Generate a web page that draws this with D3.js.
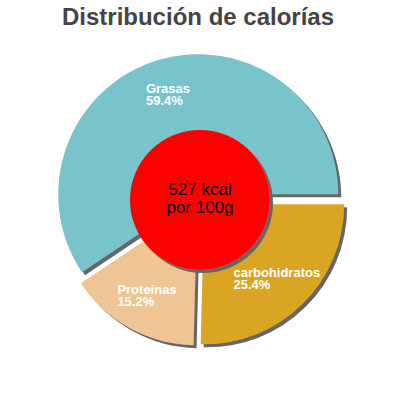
<!DOCTYPE html>
<html>
<head>
<meta charset="utf-8">
<script src="https://cdn.jsdelivr.net/npm/d3@7"></script>
<style>
  body { margin: 0; background: #fff; }
  svg { display: block; font-family: "Liberation Sans", Arial, sans-serif; }
</style>
</head>
<body>
<svg id="svg"></svg>
<script>
const W = 400, H = 400;

// data
const categories = ["carbohidratos", "Proteínas", "Grasas"];
const values = [25.4, 15.2, 59.4];
const colors = ["#daa520", "#eec593", "#79c3cb"];
const titleText = "Distribución de calorías";
const centerLines = ["527 kcal", "por 100g"];

document.addEventListener("DOMContentLoaded", function () {
    const svg = d3.select("#svg").attr("width", W).attr("height", H);

    const cx = 200, cy = 200, r = 140, explode = 6, labelR = 104;

    // hard grey drop shadow
    const f = svg.append("defs").append("filter")
        .attr("id", "shadow")
        .attr("x", "-10%").attr("y", "-10%")
        .attr("width", "130%").attr("height", "130%");
    f.append("feOffset").attr("in", "SourceAlpha").attr("dx", 3).attr("dy", 3).attr("result", "off");
    f.append("feFlood").attr("flood-color", "#666666").attr("result", "col");
    f.append("feComposite").attr("in", "col").attr("in2", "off").attr("operator", "in").attr("result", "sh");
    const m = f.append("feMerge");
    m.append("feMergeNode").attr("in", "sh");
    m.append("feMergeNode").attr("in", "SourceGraphic");

    svg.append("text")
        .attr("x", 198)
        .attr("y", 24.5)
        .attr("text-anchor", "middle")
        .attr("font-size", 24)
        .attr("font-weight", "bold")
        .attr("fill", "#444444")
        .text(titleText);

    const pie = d3.pie().sort(null)
        .startAngle(Math.PI / 2)
        .endAngle(Math.PI / 2 + 2 * Math.PI);
    const arcs = pie(values);
    const arc = d3.arc().innerRadius(0).outerRadius(r);

    const total = d3.sum(values);

    const g = svg.append("g").attr("transform", `translate(${cx},${cy})`);

    const slice = g.selectAll("g.slice")
        .data(arcs)
        .join("g")
        .attr("class", "slice")
        .attr("transform", d => {
            const a = (d.startAngle + d.endAngle) / 2;
            return `translate(${explode * Math.sin(a)},${-explode * Math.cos(a)})`;
        });

    slice.append("path")
        .attr("d", arc)
        .attr("fill", (d, i) => colors[i])
        .attr("filter", "url(#shadow)");

    // labels: two lines, left aligned, block centred on the mid angle
    slice.each(function (d, i) {
        const a = (d.startAngle + d.endAngle) / 2;
        const lx = labelR * Math.sin(a), ly = -labelR * Math.cos(a);
        const t = d3.select(this).append("text")
            .attr("font-size", 13)
            .attr("font-weight", "bold")
            .attr("fill", "#ffffff");
        t.append("tspan").attr("x", 0).attr("y", -2).text(categories[i]);
        t.append("tspan").attr("x", 0).attr("y", 10)
            .text((d.value / total * 100).toFixed(1) + "%");
        const w = t.node().getBBox().width;
        t.attr("transform", `translate(${lx - w / 2},${ly})`);
    });

    g.append("circle")
        .attr("r", 70)
        .attr("fill", "#ff0000")
        .attr("filter", "url(#shadow)");

    const ct = g.append("text")
        .attr("text-anchor", "middle")
        .attr("font-size", 17)
        .attr("fill", "#000000");
    centerLines.forEach((s, i) => {
        ct.append("tspan").attr("x", 0).attr("y", -5 + i * 18).text(s);
    });
});
</script>
</body>
</html>
